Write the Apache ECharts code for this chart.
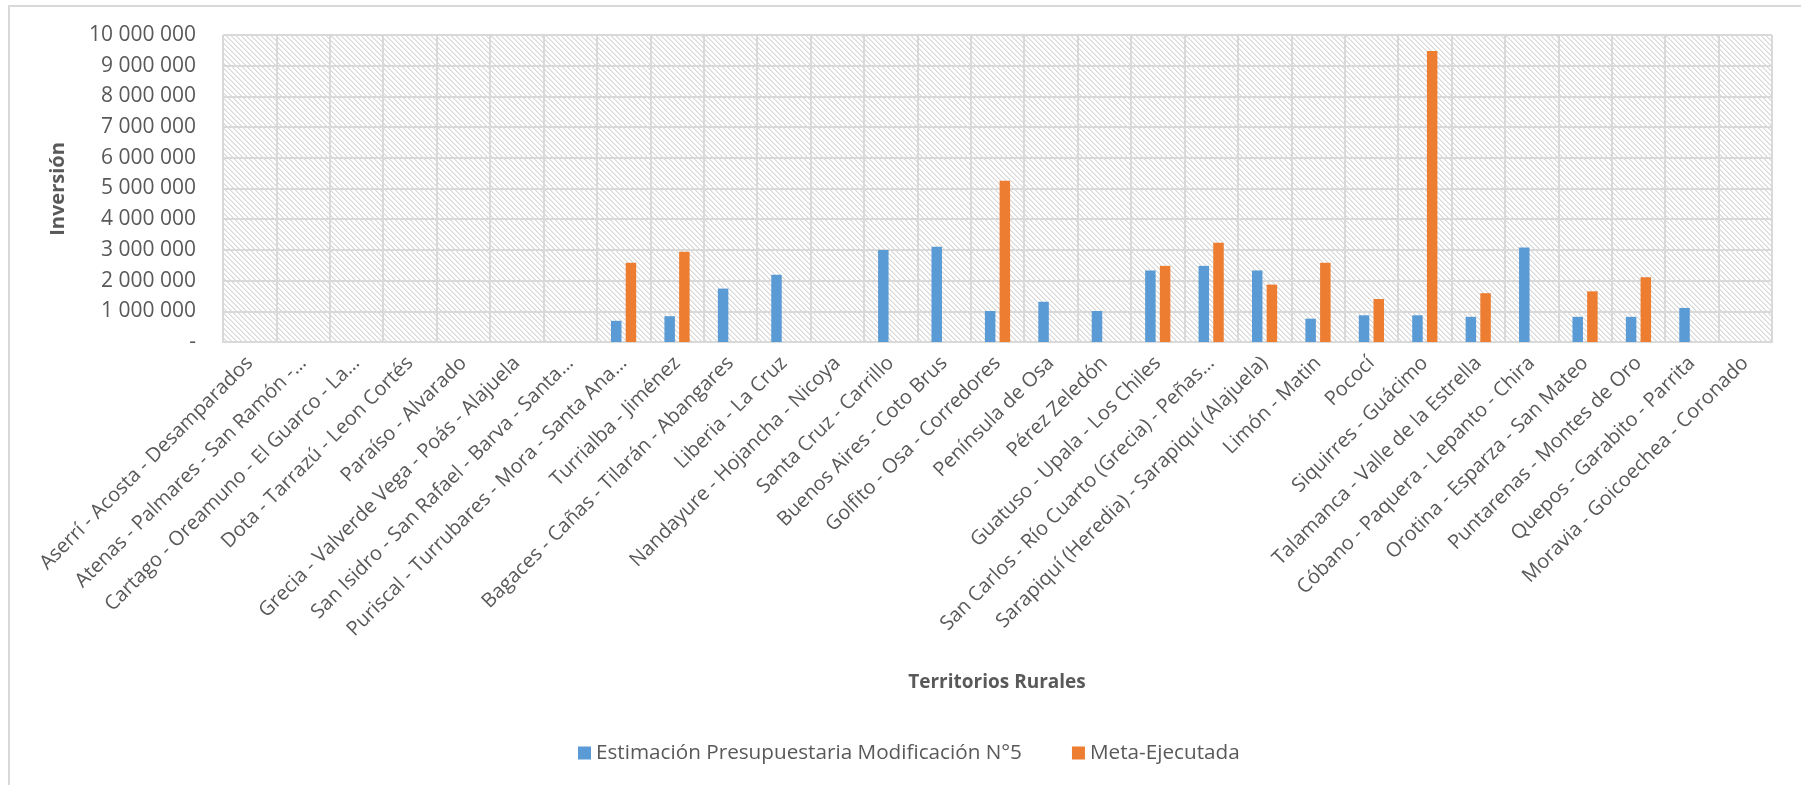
<!DOCTYPE html>
<html>
<head>
<meta charset="utf-8">
<script src="https://cdn.jsdelivr.net/npm/echarts@6/dist/echarts.min.js"></script>
<style>
  html, body { margin: 0; padding: 0; background: #ffffff; }
  #chart { width: 1801px; height: 785px; }
</style>
</head>
<body>
<div id="chart"></div>
<script>
// ---------- data ----------
var categories = [
  "Aserrí - Acosta - Desamparados",
  "Atenas - Palmares - San Ramón -…",
  "Cartago - Oreamuno - El Guarco - La…",
  "Dota - Tarrazú - Leon Cortés",
  "Paraíso - Alvarado",
  "Grecia - Valverde Vega - Poás - Alajuela",
  "San Isidro - San Rafael - Barva - Santa…",
  "Puriscal - Turrubares - Mora - Santa Ana…",
  "Turrialba - Jiménez",
  "Bagaces - Cañas - Tilarán - Abangares",
  "Liberia - La Cruz",
  "Nandayure - Hojancha - Nicoya",
  "Santa Cruz - Carrillo",
  "Buenos Aires - Coto Brus",
  "Golfito - Osa - Corredores",
  "Península de Osa",
  "Pérez Zeledón",
  "Guatuso - Upala - Los Chiles",
  "San Carlos - Río Cuarto (Grecia) - Peñas…",
  "Sarapiquí (Heredia) - Sarapiquí (Alajuela)",
  "Limón - Matin",
  "Pococí",
  "Siquirres - Guácimo",
  "Talamanca - Valle de la Estrella",
  "Cóbano - Paquera - Lepanto - Chira",
  "Orotina - Esparza - San Mateo",
  "Puntarenas - Montes de Oro",
  "Quepos - Garabito - Parrita",
  "Moravia - Goicoechea - Coronado"
];
var seriesNames = ["Estimación Presupuestaria Modificación N°5", "Meta-Ejecutada"];
var estimacion = [
  null, null, null, null, null, null, null,
  690000, 840000, 1740000, 2190000, null, 3000000, 3100000,
  1010000, 1310000, 1010000, 2330000, 2480000, 2330000,
  760000, 870000, 870000, 820000, 3080000, 820000, 820000, 1110000, null
];
var metaEjecutada = [
  null, null, null, null, null, null, null,
  2580000, 2940000, null, null, null, null, null,
  5250000, null, null, 2480000, 3230000, 1870000,
  2580000, 1400000, 9480000, 1590000, null, 1650000, 2110000, null, null
];
var yMin = 0, yMax = 10000000, yStep = 1000000;
var xTitle = "Territorios Rurales";
var yTitle = "Inversión";

// ---------- hatch pattern ----------
function makeHatch() {
  var P = 5;
  var c = document.createElement('canvas');
  c.width = P; c.height = P;
  var ctx = c.getContext('2d');
  ctx.fillStyle = '#ffffff';
  ctx.fillRect(0, 0, P, P);
  for (var y = 0; y < P; y++) {
    ctx.fillStyle = '#d9d9d9';
    ctx.fillRect(y % P, y, 1, 1);
    ctx.fillStyle = '#e8e8e8';
    ctx.fillRect((y + 1) % P, y, 1, 1);
  }
  return c;
}

function fmt(v) {
  if (v === 0) return '-';
  return String(v).replace(/\B(?=(\d{3})+(?!\d))/g, ' ');
}

var FONT = '"Open Sans", "Noto Sans", sans-serif';
var TXT = '#595959';
var GRID = '#d9d9d9';

var chart = echarts.init(document.getElementById('chart'), null, { renderer: 'canvas' });
chart.setOption({
  animation: false,
  backgroundColor: '#ffffff',
  textStyle: { fontFamily: FONT },
  grid: {
    left: 223, right: 29, top: 35, bottom: 443,
    show: true,
    backgroundColor: { image: makeHatch(), repeat: 'repeat' },
    borderWidth: 0
  },
  legend: {
    data: seriesNames,
    left: 573, top: 736,
    itemWidth: 13, itemHeight: 13, itemGap: 50,
    icon: 'rect',
    textStyle: { fontFamily: FONT, fontSize: 20.7, color: TXT, lineHeight: 24 }
  },
  xAxis: {
    type: 'category',
    data: categories,
    boundaryGap: true,
    axisLine: { show: true, lineStyle: { color: GRID, width: 2 } },
    axisTick: { show: false },
    splitLine: { show: true, interval: 0, lineStyle: { color: GRID, width: 2 } },
    axisLabel: {
      interval: 0, rotate: 45, margin: 18,
      fontFamily: FONT, fontSize: 20, color: TXT
    }
  },
  yAxis: {
    type: 'value',
    min: yMin, max: yMax, interval: yStep,
    axisLine: { show: false },
    axisTick: { show: false },
    splitLine: { show: true, lineStyle: { color: GRID, width: 2 } },
    axisLabel: {
      margin: 27, fontFamily: FONT, fontSize: 21, color: TXT,
      formatter: fmt
    }
  },
  series: [
    {
      name: seriesNames[0], type: 'bar', data: estimacion,
      barWidth: 10.5, barGap: '40%',
      itemStyle: { color: '#5b9bd5' }
    },
    {
      name: seriesNames[1], type: 'bar', data: metaEjecutada,
      barWidth: 10.5, barGap: '40%',
      itemStyle: { color: '#ed7d31' }
    }
  ],
  graphic: [
    {
      type: 'rect', silent: true, z: -1,
      shape: { x: 9, y: 6, width: 1800, height: 800 },
      style: { fill: 'none', stroke: GRID, lineWidth: 2 }
    },
    {
      type: 'text', x: 58, y: 189, rotation: Math.PI / 2,
      style: {
        text: yTitle, fontFamily: FONT, fontSize: 20, fontWeight: 'bold',
        fill: TXT, align: 'center', verticalAlign: 'middle'
      }
    },
    {
      type: 'text', x: 997, y: 683,
      style: {
        text: xTitle, fontFamily: FONT, fontSize: 19, fontWeight: 'bold',
        fill: TXT, align: 'center', verticalAlign: 'middle'
      }
    }
  ]
});
</script>
</body>
</html>
